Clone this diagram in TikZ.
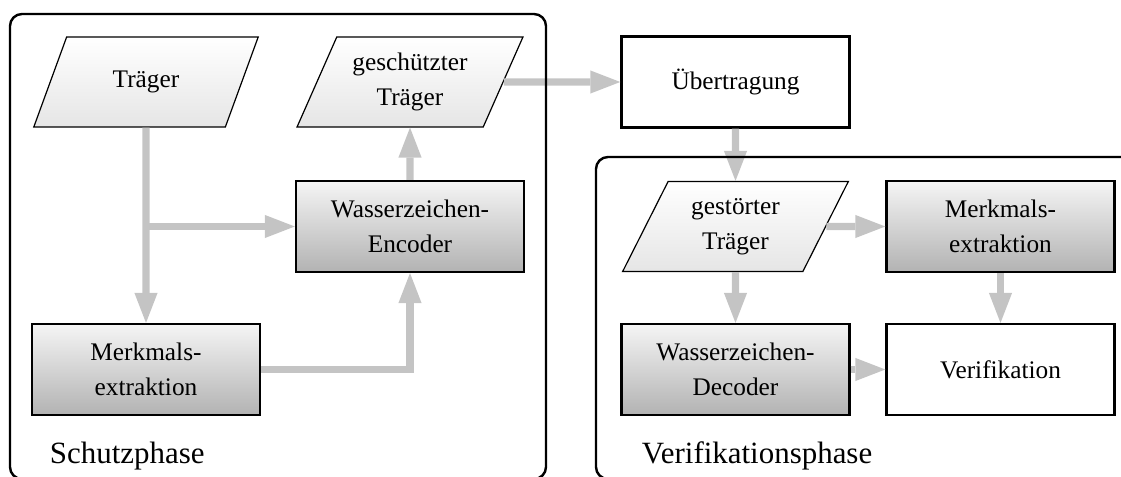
\documentclass[tikz,border=0pt]{standalone}
\usepackage{fontspec}
\setmainfont{Liberation Serif}
\usetikzlibrary{arrows.meta,shapes.geometric}
\definecolor{arrowgray}{RGB}{196,196,196}
\newcommand{\blockfont}{\fontsize{18}{25}\selectfont}
\newcommand{\phasefont}{\fontsize{22}{26}\selectfont}

\begin{document}
\begin{tikzpicture}[x=0.025cm,y=-0.025cm,
    flow/.style={draw=arrowgray,line width=0.18cm,-{Triangle[length=0.75cm,width=0.58cm,line width=0pt]}},
    process/.style={draw,line width=0.06cm,rectangle,minimum width=5.7cm,minimum height=2.27cm,top color=black!4,bottom color=black!30,align=center,font=\blockfont},
    plain/.style={process,top color=white,bottom color=white},
    data/.style={draw,line width=0.03cm,trapezium,trapezium left angle=63.4,trapezium right angle=116.6,trapezium stretches=true,minimum width=5.65cm,minimum height=2.25cm,top color=white,bottom color=black!10,align=center,font=\blockfont},
    container/.style={draw,line width=0.06cm,rounded corners=0.3cm},
    phase/.style={anchor=base west,font=\phasefont}]
                \useasboundingbox (0,0) rectangle (1121,477);
                \node[data] (traeger) at (146,82) {Träger};
                \node[data] (geschuetzt) at (410,82) {geschützter\\Träger};
                \node[plain] (uebertragung) at (735.5,82) {Übertragung};
                \node[process] (encoder) at (410,226.5) {Wasserzeichen-\\Encoder};
                \node[process] (merkmalA) at (146,369.5) {Merkmals-\\extraktion};
                \node[data] (gestoert) at (735.5,226.5) {gestörter\\Träger};
                \node[process] (merkmalB) at (1000.5,226.5) {Merkmals-\\extraktion};
                \node[process] (decoder) at (735.5,369.5) {Wasserzeichen-\\Decoder};
                \node[plain] (verifikation) at (1000.5,369.5) {Verifikation};
                \node[phase] (schutz) at (45,464) {Schutzphase};
                \node[phase] (verif) at (637,464) {Verifikationsphase};
                \coordinate (branch) at (traeger |- encoder);
                \draw[flow] (traeger) -- (merkmalA);
                \draw[flow] (branch) -- (encoder);
                \draw[flow] (encoder) -- (geschuetzt);
                \draw[flow] (merkmalA) -| (encoder);
                \draw[flow] (geschuetzt) -- (uebertragung);
                \draw[flow] (uebertragung) -- (gestoert);
                \draw[flow] (gestoert) -- (merkmalB);
                \draw[flow] (gestoert) -- (decoder);
                \draw[flow] (merkmalB) -- (verifikation);
                \draw[flow] (decoder) -- (verifikation);
                \draw[container] (10,14) rectangle (546,479);
                \draw[container] (596,157) rectangle (1160,479);
            \end{tikzpicture}
\end{document}
